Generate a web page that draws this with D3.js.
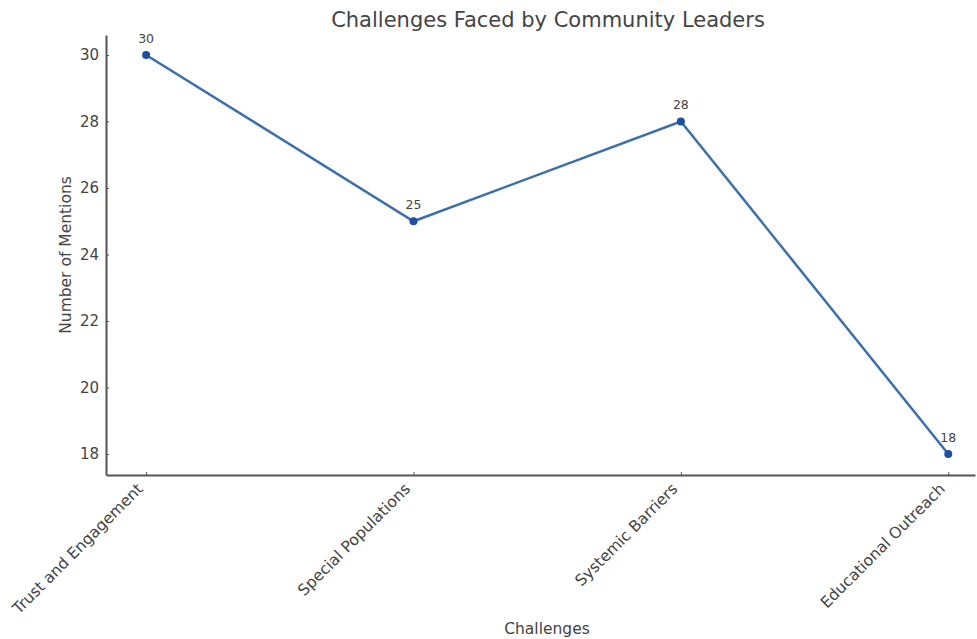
<!DOCTYPE html>
<html>
<head>
<meta charset="utf-8">
<script src="https://cdn.jsdelivr.net/npm/d3@7"></script>
<style>
  body { margin: 0; background: #fff; }
  svg { font-family: "DejaVu Sans", sans-serif; }
</style>
</head>
<body>
<div id="chart"></div>
<script>
// Chart data
const challenges = ["Trust and Engagement", "Special Populations", "Systemic Barriers", "Educational Outreach"];
const mentions = [30, 25, 28, 18];
const yTicks = [18, 20, 22, 24, 26, 28, 30];

const width = 977;
const height = 639;
const axisColor = "#555";
const textColor = "#444";

const svg = d3.select("#chart")
  .append("svg")
  .attr("width", width)
  .attr("height", height);

// x positions are by category index; axis spans a little past the first/last point
const x = d3.scaleLinear().domain([-0.15, 3.1]).range([106, 975]);
const y = d3.scaleLinear().domain([17.37, 30.6]).range([475, 35]);

// Title
svg.append("text")
  .attr("x", 548)
  .attr("y", 27)
  .attr("text-anchor", "middle")
  .attr("font-size", 21)
  .attr("fill", textColor)
  .text("Challenges Faced by Community Leaders");

// Y axis (ticks point inward)
const yAxis = svg.append("g")
  .attr("transform", `translate(${x.range()[0]},0)`)
  .call(d3.axisLeft(y).tickValues(yTicks).tickSize(-3).tickSizeOuter(0).tickPadding(7));
yAxis.select(".domain").attr("stroke", axisColor).attr("stroke-width", 2);
yAxis.selectAll(".tick line").attr("stroke", axisColor);
yAxis.selectAll(".tick text")
  .attr("font-size", 15)
  .attr("fill", textColor)
  .attr("font-family", "DejaVu Sans, sans-serif");

// X axis
const xAxis = svg.append("g")
  .attr("transform", `translate(0,${y.range()[0]})`)
  .call(d3.axisBottom(x)
    .tickValues(d3.range(challenges.length))
    .tickFormat((i) => challenges[i])
    .tickSize(-3)
    .tickSizeOuter(0)
    .tickPadding(7));
xAxis.select(".domain").attr("stroke", axisColor).attr("stroke-width", 2);
xAxis.selectAll(".tick line").attr("stroke", axisColor);
xAxis.selectAll(".tick text")
  .attr("font-size", 15.6)
  .attr("fill", textColor)
  .attr("font-family", "DejaVu Sans, sans-serif")
  .attr("text-anchor", "end")
  .attr("dx", "-0.8em")
  .attr("dy", "0.1em")
  .attr("transform", "rotate(-45)");

// Axis labels
svg.append("text")
  .attr("x", 547)
  .attr("y", 634)
  .attr("text-anchor", "middle")
  .attr("font-size", 15.5)
  .attr("fill", textColor)
  .text("Challenges");

svg.append("text")
  .attr("transform", `translate(71,${(y.range()[0] + y.range()[1]) / 2}) rotate(-90)`)
  .attr("text-anchor", "middle")
  .attr("font-size", 15.5)
  .attr("fill", textColor)
  .text("Number of Mentions");

// Line
const line = d3.line()
  .x((d, i) => x(i))
  .y((d) => y(d));

svg.append("path")
  .datum(mentions)
  .attr("fill", "none")
  .attr("stroke", "#3c6fae")
  .attr("stroke-width", 2.5)
  .attr("d", line);

// Points
svg.selectAll("circle.pt")
  .data(mentions)
  .enter()
  .append("circle")
  .attr("class", "pt")
  .attr("cx", (d, i) => x(i))
  .attr("cy", (d) => y(d))
  .attr("r", 4)
  .attr("fill", "#1f4fa0");

// Value labels
svg.selectAll("text.val")
  .data(mentions)
  .enter()
  .append("text")
  .attr("class", "val")
  .attr("x", (d, i) => x(i))
  .attr("y", (d) => y(d) - 12)
  .attr("text-anchor", "middle")
  .attr("font-size", 12.5)
  .attr("fill", textColor)
  .text((d) => d);
</script>
</body>
</html>
